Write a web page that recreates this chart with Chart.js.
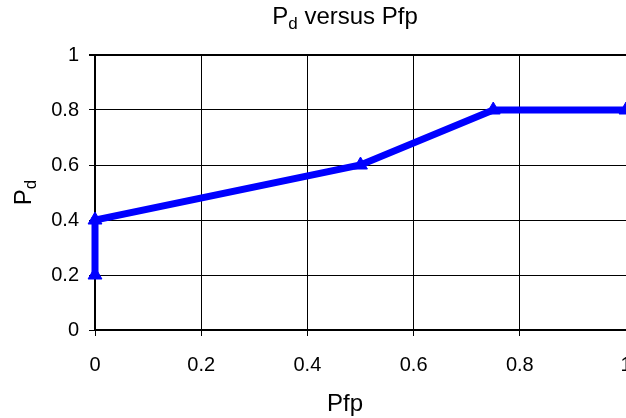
<!DOCTYPE html>
<html>
<head>
<meta charset="utf-8">
<script src="https://cdn.jsdelivr.net/npm/chart.js@4/dist/chart.umd.min.js"></script>
<style>
  html, body { margin: 0; padding: 0; background: #fff; overflow: hidden; }
  #wrap { width: 626px; height: 418px; }
</style>
</head>
<body>
<div id="wrap"><canvas id="pdChart" width="626" height="418"></canvas></div>
<script>
// data
const pfpValues = [0, 0, 0.5, 0.75, 1];
const pdValues = [0.2, 0.4, 0.6, 0.8, 0.8];
const xTickValues = [0, 0.2, 0.4, 0.6, 0.8, 1];
const yTickValues = [0, 0.2, 0.4, 0.6, 0.8, 1];

const FONT = 'Arial, "Liberation Sans", sans-serif';

// title + axis titles with subscript "d"
const textPlugin = {
    id: 'subTitles',
    afterDraw(chart) {
        const ctx = chart.ctx;
        const area = chart.chartArea;
        const midX = 345;

        function drawSub(x, y, main, sub, rest, size) {
            const subSize = Math.round(size * 0.7);
            ctx.font = size + 'px ' + FONT;
            const wMain = ctx.measureText(main).width;
            const wRest = ctx.measureText(rest).width;
            ctx.font = subSize + 'px ' + FONT;
            const wSub = ctx.measureText(sub).width;
            let cx = x - (wMain + wSub + wRest) / 2;
            ctx.font = size + 'px ' + FONT;
            ctx.fillText(main, cx, y);
            cx += wMain;
            ctx.font = subSize + 'px ' + FONT;
            ctx.fillText(sub, cx, y + size * 0.2);
            cx += wSub;
            ctx.font = size + 'px ' + FONT;
            ctx.fillText(rest, cx, y);
        }

        ctx.save();
        ctx.fillStyle = '#000';
        ctx.textAlign = 'left';
        ctx.textBaseline = 'alphabetic';

        drawSub(midX, 24, 'P', 'd', ' versus Pfp', 24);

        ctx.font = '24px ' + FONT;
        ctx.textAlign = 'center';
        ctx.fillText('Pfp', midX, 411);

        ctx.textAlign = 'left';
        ctx.translate(31, (area.top + area.bottom) / 2);
        ctx.rotate(-Math.PI / 2);
        drawSub(0, 0, 'P', 'd', '', 24);
        ctx.restore();
    }
};

new Chart(document.getElementById('pdChart'), {
    type: 'scatter',
    data: {
        datasets: [{
            data: pfpValues.map((x, i) => ({ x: x, y: pdValues[i] })),
            showLine: true,
            borderColor: '#0000FF',
            backgroundColor: '#0000FF',
            borderWidth: 7,
            pointStyle: 'triangle',
            pointRadius: 8,
            pointBorderWidth: 1,
            clip: false
        }]
    },
    options: {
        responsive: false,
        animation: false,
        layout: {
            autoPadding: false,
            // chart runs a pixel past the right edge, as in the reference
            padding: { left: 0, right: -1, top: 55, bottom: 0 }
        },
        plugins: {
            legend: { display: false },
            title: { display: false },
            tooltip: { enabled: false }
        },
        scales: {
            x: {
                type: 'linear',
                min: 0,
                max: 1,
                afterFit: (scale) => {
                    scale.height = 88;
                    scale.paddingLeft = 0;
                    scale.paddingRight = 0;
                },
                afterBuildTicks: (scale) => { scale.ticks = xTickValues.map(v => ({ value: v })); },
                grid: {
                    color: '#000',
                    lineWidth: 1,
                    tickLength: 6,
                    tickColor: '#000'
                },
                border: { display: true, color: '#000', width: 2 },
                ticks: {
                    color: '#000',
                    padding: 17,
                    maxRotation: 0,
                    callback: (v) => String(v),
                    font: { family: FONT, size: 20 }
                }
            },
            y: {
                min: 0,
                max: 1,
                afterFit: (scale) => {
                    scale.width = 95;
                    scale.paddingTop = 0;
                    scale.paddingBottom = 0;
                },
                afterBuildTicks: (scale) => { scale.ticks = yTickValues.map(v => ({ value: v })); },
                grid: {
                    color: '#000',
                    lineWidth: (c) => (c.tick && c.tick.value === 1 ? 2 : 1),
                    tickLength: 6,
                    tickColor: '#000'
                },
                border: { display: true, color: '#000', width: 2 },
                ticks: {
                    color: '#000',
                    padding: 10,
                    callback: (v) => String(v),
                    font: { family: FONT, size: 20 }
                }
            }
        }
    },
    plugins: [textPlugin]
});
</script>
</body>
</html>
